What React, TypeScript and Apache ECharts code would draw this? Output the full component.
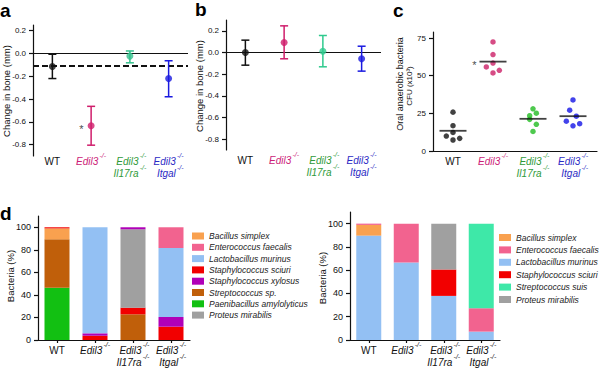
import React, { useEffect, useRef } from 'react';
import * as echarts from 'echarts';

const FONT = '"Liberation Sans", Arial, Helvetica, sans-serif';

// Shared category names (genotypes); each gene after the first goes on a second line
const CATEGORIES = ['WT', 'Edil3', 'Edil3 Il17ra', 'Edil3 Itgal'];
const KO_MARK = '-/-';

// Panel a: change in bone (mm), mean with error range
const A_MEAN = [-0.115, -0.635, -0.023, -0.22];
const A_LOW = [-0.22, -0.805, -0.082, -0.38];
const A_HIGH = [-0.007, -0.464, 0.022, -0.064];
const A_REFERENCE = -0.113;
const AB_TICKS = [0.2, 0, -0.2, -0.4, -0.6, -0.8];

// Panel b
const B_MEAN = [0, 0.092, 0.012, -0.058];
const B_LOW = [-0.117, -0.058, -0.132, -0.172];
const B_HIGH = [0.114, 0.246, 0.157, 0.058];

// Panel c: oral anaerobic bacteria CFU (x10^3), individual animals
const C_WT = [25.8, 16.8, 12.3, 9.9, 8.4, 7.3];
const C_EDIL3 = [72.4, 64.0, 58.4, 55.8, 53.6, 51.8];
const C_IL17RA = [28.0, 25.1, 23.4, 21.0, 17.7, 13.0];
const C_ITGAL = [33.9, 27.1, 23.1, 19.8, 18.1, 16.7];
const C_JITTER = [
  [0, 0, 0, -0.167, 0.167, 0],
  [0, 0, 0, -0.167, 0.158, 0],
  [0, 0.083, -0.083, -0.083, 0.083, 0],
  [0, -0.083, 0.083, -0.167, 0.167, 0],
];
const C_TICKS = [0, 25, 50, 75];
const D_TICKS = [0, 20, 40, 60, 80, 100];

// Panel d left: bacteria (%) stacked, bottom to top
const DL_SPECIES = [
  'Paenibacillus amylolyticus',
  'Streptococcus sp.',
  'Bacillus simplex',
  'Staphylococcus sciuri',
  'Proteus mirabilis',
  'Staphylococcus xylosus',
  'Lactobacillus murinus',
  'Enterococcus faecalis',
];
const DL_PAENIBACILLUS = [46.4, 0, 0, 0];
const DL_STREPTOCOCCUS = [42.9, 0, 22.8, 0];
const DL_BACILLUS = [9.7, 0, 0, 0];
const DL_SCIURI = [1.0, 3.8, 5.9, 11.8];
const DL_PROTEUS = [0, 0, 69.5, 0];
const DL_XYLOSUS = [0, 2.1, 1.8, 8.6];
const DL_LACTOBACILLUS = [0, 94.1, 0, 61.2];
const DL_ENTEROCOCCUS = [0, 0, 0, 18.4];
const DL_VALUES = [DL_PAENIBACILLUS, DL_STREPTOCOCCUS, DL_BACILLUS, DL_SCIURI, DL_PROTEUS, DL_XYLOSUS, DL_LACTOBACILLUS, DL_ENTEROCOCCUS];
const DL_LEGEND = [
  'Bacillus simplex',
  'Enterococcus faecalis',
  'Lactobacillus murinus',
  'Staphylococcus sciuri',
  'Staphylococcus xylosus',
  'Streptococcus sp.',
  'Paenibacillus amylolyticus',
  'Proteus mirabilis',
];

// Panel d right
const DR_SPECIES = [
  'Lactobacillus murinus',
  'Staphylococcus sciuri',
  'Bacillus simplex',
  'Enterococcus faecalis',
  'Proteus mirabilis',
  'Streptococcus suis',
];
const DR_LACTOBACILLUS = [89.7, 66.7, 37.9, 7.2];
const DR_SCIURI = [0, 0, 22.7, 0];
const DR_BACILLUS = [9.2, 0, 0, 0];
const DR_ENTEROCOCCUS = [1.1, 33.3, 0, 20.1];
const DR_PROTEUS = [0, 0, 39.4, 0];
const DR_SUIS = [0, 0, 0, 72.7];
const DR_VALUES = [DR_LACTOBACILLUS, DR_SCIURI, DR_BACILLUS, DR_ENTEROCOCCUS, DR_PROTEUS, DR_SUIS];
const DR_LEGEND = [
  'Bacillus simplex',
  'Enterococcus faecalis',
  'Lactobacillus murinus',
  'Staphylococcus sciuri',
  'Streptococcus suis',
  'Proteus mirabilis',
];

// Styles
const SPECIES_COLORS: Record<string, string> = {
  'Bacillus simplex': '#f9a14f',
  'Enterococcus faecalis': '#f2638f',
  'Lactobacillus murinus': '#93c0f3',
  'Staphylococcus sciuri': '#f20000',
  'Staphylococcus xylosus': '#b000b8',
  'Streptococcus sp.': '#c05f0a',
  'Paenibacillus amylolyticus': '#12c012',
  'Proteus mirabilis': '#a0a0a0',
  'Streptococcus suis': '#3ee8a8',
};
const A_COLORS = ['#111111', '#cf1d6b', '#33c08c', '#1a1ae0'];
const B_COLORS = ['#111111', '#cf1d6b', '#2fca8e', '#1a1ae0'];
const C_COLORS = ['#111111', '#cc1f66', '#22bb22', '#1414e6'];
const LABEL_COLORS: Record<string, string> = { k: '#111111', m: '#cc2277', g: '#2f9a3a', b: '#2b2bc4' };
const LABEL_KEYS_COLORED = ['k', 'm', 'g', 'b'];
const LABEL_KEYS_BLACK = ['k', 'k', 'k', 'k'];

const MAIN_SIZE = 10;
const SUP_SIZE = 7;
const SUP_LINE = 5;
const MAIN_LINE = 7;

let measureCtx: CanvasRenderingContext2D | null = null;
function textWidth(text: string, font: string) {
  if (!measureCtx) measureCtx = document.createElement('canvas').getContext('2d');
  if (!measureCtx) return text.length * 5;
  measureCtx.font = font;
  return measureCtx.measureText(text).width;
}
const mainWidth = (t: string) => textWidth(t, `italic ${MAIN_SIZE}px "Liberation Sans"`);
const supWidth = (t: string) => textWidth(t, `italic ${SUP_SIZE}px "Liberation Sans"`);

function buildRich() {
  const rich: Record<string, any> = {};
  Object.keys(LABEL_COLORS).forEach((k) => {
    const c = LABEL_COLORS[k];
    rich[k + 'n'] = { color: c, fontSize: MAIN_SIZE, fontFamily: FONT, lineHeight: MAIN_LINE };
    rich[k + 'i'] = { color: c, fontSize: MAIN_SIZE, fontStyle: 'italic', fontFamily: FONT, lineHeight: MAIN_LINE };
    rich[k + 's'] = { color: c, fontSize: SUP_SIZE, fontStyle: 'italic', fontFamily: FONT, lineHeight: SUP_LINE };
  });
  CATEGORIES.forEach((name, ci) => {
    const genes = name.split(' ');
    const maxW = Math.max(...genes.map(mainWidth));
    rich['sw' + ci] = { fontSize: 4, lineHeight: SUP_LINE, width: maxW + 1.2 };
    genes.forEach((g, li) => {
      const pad = maxW - mainWidth(g);
      if (pad > 0.3) rich[`pd${ci}_${li}`] = { fontSize: 4, lineHeight: MAIN_LINE, width: pad };
    });
  });
  rich.ws = { fontSize: 4, lineHeight: MAIN_LINE, width: supWidth(KO_MARK) + 1.2 };
  rich.top = { fontSize: 4, lineHeight: SUP_LINE };
  return rich;
}

function catLabel(index: number, keys: string[], rich: Record<string, any>) {
  const key = keys[index];
  const name = CATEGORIES[index];
  if (name === 'WT') return `{top| }\n{${key}n|WT}`;
  return name
    .split(' ')
    .map((g, li) => {
      const pad = rich[`pd${index}_${li}`] ? `{pd${index}_${li}| }` : '';
      return `{sw${index}| }{${key}s|${KO_MARK}}\n${pad}{${key}i|${g}}{ws| }`;
    })
    .join('\n');
}

function mean(arr: number[]) {
  return arr.reduce((a, b) => a + b, 0) / arr.length;
}

const axisLineStyle = { color: '#111111', width: 1.2 };

function yAxisBase(gridIndex: number, min: number, max: number, ticks: number[], fmt: (v: number) => string, fontSize: number) {
  return {
    type: 'value',
    gridIndex,
    min,
    max,
    axisLine: { show: true, onZero: false, lineStyle: axisLineStyle },
    axisTick: { show: true, length: 4, lineStyle: axisLineStyle, customValues: ticks },
    axisLabel: { customValues: ticks, formatter: fmt, fontSize, color: '#111111', fontFamily: FONT, margin: 7 },
    splitLine: { show: false },
  };
}

function errorBarSeries(xIdx: number, low: number[], high: number[], colors: string[]) {
  return {
    type: 'custom',
    xAxisIndex: xIdx,
    yAxisIndex: xIdx,
    encode: { x: 0, y: [1, 2] },
    data: low.map((l, i) => [i, l, high[i]]),
    renderItem: (params: any, api: any) => {
      const x = api.value(0);
      const lo = api.coord([x, api.value(1)]);
      const hi = api.coord([x, api.value(2)]);
      const style = { stroke: colors[params.dataIndex], lineWidth: 1.5 };
      return {
        type: 'group',
        children: [
          { type: 'line', shape: { x1: lo[0], y1: lo[1], x2: hi[0], y2: hi[1] }, style },
          { type: 'line', shape: { x1: lo[0] - 4, y1: lo[1], x2: lo[0] + 4, y2: lo[1] }, style },
          { type: 'line', shape: { x1: hi[0] - 4, y1: hi[1], x2: hi[0] + 4, y2: hi[1] }, style },
        ],
      };
    },
  };
}

const starLabel = (distance: number) => ({
  show: true,
  formatter: '*',
  position: 'left',
  distance,
  offset: [0, 3],
  fontSize: 11,
  color: '#111111',
  fontFamily: FONT,
});

function meanPointSeries(xIdx: number, means: number[], colors: string[], markLines: any[]) {
  return {
    type: 'scatter',
    xAxisIndex: xIdx,
    yAxisIndex: xIdx,
    symbol: 'circle',
    symbolSize: 7,
    z: 5,
    data: means.map((v, i) => ({
      value: [i, v],
      itemStyle: { color: colors[i] },
      label: xIdx === 0 && i === 1 ? starLabel(4) : { show: false },
    })),
    markLine: {
      silent: true,
      symbol: 'none',
      label: { show: false },
      z: 1,
      data: markLines,
    },
  };
}

export default function App() {
  const ref = useRef<HTMLDivElement>(null);

  useEffect(() => {
    if (!ref.current) return;
    const chart = echarts.init(ref.current, null, { renderer: 'svg' });
    const rich = buildRich();

    const catXAxis = (gridIndex: number, margin: number, keys: string[], showLine: boolean) => ({
      type: 'category',
      gridIndex,
      data: CATEGORIES,
      axisLine: { show: showLine, onZero: false, lineStyle: axisLineStyle },
      axisTick: { show: showLine, alignWithLabel: true, length: 3, lineStyle: axisLineStyle },
      axisLabel: {
        interval: 0,
        margin,
        formatter: (_v: string, i: number) => catLabel(i, keys, rich),
        rich,
      },
    });

    const cGroups = [C_WT, C_EDIL3, C_IL17RA, C_ITGAL];
    const cPoints: any[] = [];
    cGroups.forEach((g, gi) =>
      g.forEach((v, j) => cPoints.push({ value: [gi + C_JITTER[gi][j], v], itemStyle: { color: C_COLORS[gi] } }))
    );

    const titleStyle = (text: string, size: number) => ({
      text,
      fontSize: size,
      fontFamily: FONT,
      fill: '#111111',
      align: 'center',
      verticalAlign: 'middle',
    });
    const letter = (text: string, x: number, y: number) => ({
      type: 'text',
      x,
      y,
      style: { text, fontSize: 19, fontWeight: 'bold', fontFamily: FONT, fill: '#000000', align: 'left', verticalAlign: 'middle' },
    });
    const vTitle = (text: string, x: number, y: number, size: number) => ({
      type: 'text',
      x,
      y,
      rotation: Math.PI / 2,
      style: titleStyle(text, size),
    });

    const legendBase = {
      orient: 'vertical',
      icon: 'rect',
      itemWidth: 12,
      itemHeight: 7,
      padding: 0,
      selectedMode: false,
      textStyle: { fontSize: 8.5, fontStyle: 'italic', color: '#222222', fontFamily: FONT },
    };

    const option: any = {
      animation: false,
      backgroundColor: '#ffffff',
      textStyle: { fontFamily: FONT },
      grid: [
        { left: 33, top: 25, width: 155, height: 131 },
        { left: 226, top: 20, width: 155, height: 130 },
        { left: 433, top: 32, width: 164, height: 119 },
        { left: 38, top: 216, width: 152, height: 124 },
        { left: 350, top: 212, width: 150, height: 128 },
      ],
      xAxis: [
        catXAxis(0, -3, LABEL_KEYS_COLORED, false),
        catXAxis(1, 1.5, LABEL_KEYS_COLORED, false),
        {
          type: 'value',
          gridIndex: 2,
          min: -0.5,
          max: 3.6,
          axisLine: { show: true, onZero: false, lineStyle: axisLineStyle },
          axisTick: { show: false },
          splitLine: { show: false },
          axisLabel: {
            customValues: [0, 1, 2, 3],
            margin: 1.5,
            formatter: (v: number) => catLabel(Math.round(v), LABEL_KEYS_COLORED, rich),
            rich,
          },
        },
        catXAxis(3, 2.2, LABEL_KEYS_BLACK, true),
        catXAxis(4, 2.2, LABEL_KEYS_BLACK, true),
      ],
      yAxis: [
        yAxisBase(0, -0.9, 0.25, AB_TICKS, (v) => v.toFixed(1), 8),
        yAxisBase(1, -0.9, 0.3, AB_TICKS, (v) => v.toFixed(1), 8),
        yAxisBase(2, 0, 79, C_TICKS, (v) => String(v), 8),
        yAxisBase(3, 0, 110, D_TICKS, (v) => String(v), 9),
        yAxisBase(4, 0, 110, D_TICKS, (v) => String(v), 9),
      ],
      legend: [
        { ...legendBase, data: DL_LEGEND, left: 192, top: 230.5, itemGap: 0.3, textStyle: { ...legendBase.textStyle, lineHeight: 11 } },
        { ...legendBase, data: DR_LEGEND, left: 499, top: 231.5, itemGap: 0.4, textStyle: { ...legendBase.textStyle, lineHeight: 12 } },
      ],
      graphic: [
        letter('a', 0, 10),
        letter('b', 195, 9.5),
        letter('c', 393, 10),
        letter('d', 0, 213.5),
        vTitle('Change in bone (mm)', 6, 91, 9.5),
        vTitle('Change in bone (mm)', 199, 86, 9.5),
        vTitle('Oral anaerobic bacteria', 400, 84, 9),
        vTitle('CFU (x10³)', 409.5, 86, 8),
        vTitle('Bacteria (%)', 10, 276, 9.5),
        vTitle('Bacteria (%)', 322, 278, 9.5),
      ],
      series: [
        errorBarSeries(0, A_LOW, A_HIGH, A_COLORS),
        meanPointSeries(0, A_MEAN, A_COLORS, [
          { yAxis: 0, lineStyle: { type: 'solid', width: 1.2, color: '#111111' } },
          { yAxis: A_REFERENCE, lineStyle: { type: [6, 3], width: 2, color: '#111111' } },
        ]),
        errorBarSeries(1, B_LOW, B_HIGH, B_COLORS),
        meanPointSeries(1, B_MEAN, B_COLORS, [
          { yAxis: 0, lineStyle: { type: 'solid', width: 1.2, color: '#111111' } },
        ]),
        {
          type: 'scatter',
          xAxisIndex: 2,
          yAxisIndex: 2,
          symbol: 'circle',
          symbolSize: 5.5,
          data: cPoints,
        },
        {
          type: 'scatter',
          xAxisIndex: 2,
          yAxisIndex: 2,
          symbol: 'rect',
          symbolSize: [27, 1.8],
          itemStyle: { color: '#111111' },
          data: cGroups.map((g, gi) => ({
            value: [gi, mean(g)],
            label: gi === 1 ? starLabel(3) : { show: false },
          })),
        },
        ...DL_SPECIES.map((name, si) => ({
          type: 'bar',
          name,
          stack: 'left',
          xAxisIndex: 3,
          yAxisIndex: 3,
          barWidth: 25,
          itemStyle: { color: SPECIES_COLORS[name] },
          data: DL_VALUES[si],
        })),
        ...DR_SPECIES.map((name, si) => ({
          type: 'bar',
          name,
          stack: 'right',
          xAxisIndex: 4,
          yAxisIndex: 4,
          barWidth: 25,
          itemStyle: { color: SPECIES_COLORS[name] },
          data: DR_VALUES[si],
        })),
      ],
    };

    chart.setOption(option);
    return () => chart.dispose();
  }, []);

  return <div ref={ref} style={{ position: 'fixed', left: 0, top: 0, width: 600, height: 368 }} />;
}
